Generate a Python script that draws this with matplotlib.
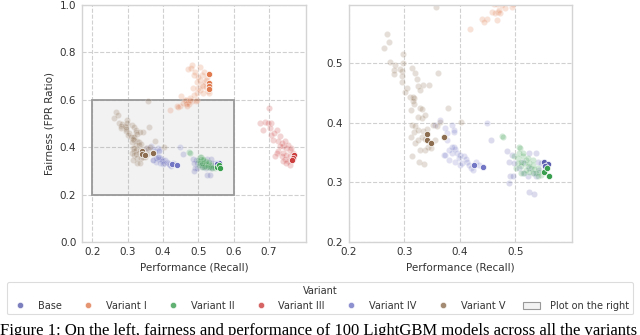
import matplotlib
matplotlib.use('Agg')
from matplotlib import pyplot as plt
from matplotlib.patches import Rectangle, Patch
from matplotlib.lines import Line2D

# faint points: all models, bold points: highlighted models
base_x = [0.456, 0.484, 0.494, 0.489, 0.497, 0.513, 0.525, 0.537, 0.540, 0.546, 0.543,
          0.534, 0.522, 0.537, 0.490, 0.495, 0.488, 0.524, 0.534, 0.513, 0.525, 0.507]
base_y = [0.372, 0.352, 0.346, 0.334, 0.333, 0.335, 0.349, 0.349, 0.335, 0.333, 0.321,
          0.316, 0.310, 0.310, 0.310, 0.310, 0.299, 0.283, 0.281, 0.316, 0.324, 0.324]
base_top_x = [0.552, 0.558, 0.554]
base_top_y = [0.334, 0.331, 0.327]

v1_x = [0.419, 0.448, 0.462, 0.468, 0.476, 0.481, 0.488, 0.495, 0.499, 0.504, 0.509, 0.514,
        0.518, 0.523, 0.527, 0.530, 0.504, 0.509, 0.515, 0.525, 0.481, 0.478, 0.472, 0.490,
        0.504, 0.495, 0.485, 0.487, 0.499, 0.514, 0.466, 0.452, 0.495, 0.523, 0.440, 0.443,
        0.458, 0.464, 0.470, 0.473, 0.467, 0.476, 0.494]
v1_y = [0.558, 0.574, 0.600, 0.586, 0.607, 0.593, 0.621, 0.628, 0.649, 0.642, 0.663, 0.656,
        0.673, 0.653, 0.639, 0.628, 0.684, 0.705, 0.719, 0.698, 0.747, 0.733, 0.729, 0.719,
        0.740, 0.677, 0.649, 0.705, 0.698, 0.628, 0.600, 0.614, 0.600, 0.684, 0.574, 0.569,
        0.587, 0.584, 0.589, 0.584, 0.572, 0.598, 0.595]
v1_top_x = [0.530, 0.530, 0.530, 0.530]
v1_top_y = [0.710, 0.670, 0.660, 0.645]

v2_x = [0.475, 0.477, 0.506, 0.508, 0.507, 0.504, 0.513, 0.519, 0.516, 0.525, 0.531, 0.522,
        0.528, 0.534, 0.540, 0.543, 0.537, 0.531, 0.525, 0.519, 0.510, 0.504, 0.501, 0.516,
        0.546, 0.531, 0.522, 0.510, 0.540, 0.510, 0.513, 0.498]
v2_y = [0.378, 0.376, 0.360, 0.358, 0.349, 0.341, 0.344, 0.338, 0.333, 0.333, 0.330, 0.327,
        0.324, 0.322, 0.324, 0.318, 0.316, 0.316, 0.318, 0.321, 0.327, 0.333, 0.324, 0.316,
        0.313, 0.338, 0.341, 0.316, 0.310, 0.335, 0.349, 0.344]
v2_top_x = [0.552, 0.557, 0.560]
v2_top_y = [0.318, 0.324, 0.310]

v3_x = [0.700, 0.674, 0.688, 0.697, 0.706, 0.682, 0.702, 0.721, 0.706, 0.715, 0.730, 0.710,
        0.724, 0.735, 0.740, 0.749, 0.758, 0.724, 0.740, 0.749, 0.758, 0.735, 0.744, 0.753,
        0.763, 0.768, 0.740, 0.749, 0.758, 0.730, 0.722, 0.718, 0.744, 0.753, 0.763]
v3_y = [0.565, 0.501, 0.508, 0.501, 0.504, 0.473, 0.480, 0.473, 0.452, 0.459, 0.445, 0.431,
        0.424, 0.417, 0.403, 0.396, 0.389, 0.382, 0.375, 0.368, 0.361, 0.361, 0.350, 0.340,
        0.347, 0.375, 0.340, 0.333, 0.326, 0.403, 0.375, 0.361, 0.424, 0.410, 0.396]
v3_top_x = [0.770, 0.768, 0.766]
v3_top_y = [0.368, 0.354, 0.347]

v4_x = [0.365, 0.356, 0.386, 0.389, 0.377, 0.377, 0.389, 0.392, 0.386, 0.395, 0.401, 0.407,
        0.398, 0.411, 0.413, 0.404, 0.416, 0.420, 0.401, 0.429, 0.435, 0.448, 0.371, 0.380,
        0.392, 0.424, 0.373, 0.381, 0.389, 0.373, 0.386]
v4_y = [0.405, 0.397, 0.397, 0.388, 0.383, 0.372, 0.360, 0.356, 0.349, 0.349, 0.346, 0.344,
        0.341, 0.339, 0.335, 0.333, 0.330, 0.324, 0.330, 0.335, 0.330, 0.400, 0.346, 0.338,
        0.335, 0.321, 0.346, 0.355, 0.385, 0.391, 0.360]
v4_top_x = [0.425, 0.441]
v4_top_y = [0.330, 0.326]

v5_x = [0.357, 0.268, 0.272, 0.263, 0.275, 0.283, 0.282, 0.281, 0.292, 0.295, 0.296, 0.298,
        0.297, 0.295, 0.304, 0.302, 0.313, 0.319, 0.323, 0.325, 0.310, 0.315, 0.318, 0.317,
        0.315, 0.360, 0.345, 0.334, 0.328, 0.328, 0.332, 0.312, 0.325, 0.331, 0.337, 0.378,
        0.314, 0.319, 0.317, 0.325, 0.334, 0.340, 0.352, 0.358, 0.312, 0.319, 0.325, 0.331,
        0.337, 0.343, 0.348, 0.337, 0.328, 0.314, 0.326, 0.336, 0.372, 0.355, 0.402, 0.364]
v5_y = [0.594, 0.549, 0.536, 0.525, 0.502, 0.497, 0.489, 0.482, 0.491, 0.487, 0.478, 0.516,
        0.500, 0.468, 0.459, 0.452, 0.492, 0.484, 0.473, 0.462, 0.444, 0.444, 0.441, 0.432,
        0.436, 0.483, 0.464, 0.464, 0.455, 0.425, 0.423, 0.422, 0.409, 0.408, 0.413, 0.425,
        0.397, 0.395, 0.385, 0.388, 0.387, 0.389, 0.397, 0.394, 0.377, 0.366, 0.372, 0.377,
        0.373, 0.360, 0.358, 0.355, 0.355, 0.345, 0.334, 0.331, 0.377, 0.372, 0.402, 0.402]
v5_top_x = [0.340, 0.341, 0.348, 0.371]
v5_top_y = [0.382, 0.371, 0.366, 0.377]

names = ['Base', 'Variant I', 'Variant II', 'Variant III', 'Variant IV', 'Variant V']
colors = ['#5b5fae', '#e07b4f', '#3a9e4f', '#cc3d3d', '#7276c4', '#8c6d4f']

caption = ('Figure 1: On the left, fairness and performance of 100 LightGBM models '
           'across all the variants')

series = [
    (base_x, base_y, base_top_x, base_top_y),
    (v1_x, v1_y, v1_top_x, v1_top_y),
    (v2_x, v2_y, v2_top_x, v2_top_y),
    (v3_x, v3_y, v3_top_x, v3_top_y),
    (v4_x, v4_y, v4_top_x, v4_top_y),
    (v5_x, v5_y, v5_top_x, v5_top_y),
]

plt.rcParams['font.family'] = ['DejaVu Sans']
plt.rcParams['font.size'] = 7.5

fig = plt.figure(figsize=(6.4, 3.35), dpi=100)
ax1 = fig.add_axes([0.128, 0.278, 0.350, 0.707])
ax2 = fig.add_axes([0.545, 0.278, 0.348, 0.707])


def style(ax):
	ax.set_axisbelow(True)
	ax.grid(True, linestyle='--', color='#d0d0d0', linewidth=0.8)
	for s in ax.spines.values():
		s.set_color('#d4d4d4')
		s.set_linewidth(1.0)
	ax.tick_params(length=0, colors='#333333', labelsize=7.5, pad=4)


for ax in (ax1, ax2):
	style(ax)
	for (x, y, tx, ty), c in zip(series, colors):
		ax.scatter(x, y, s=20, color=c, alpha=0.22, edgecolor='white', linewidth=0.5, zorder=2)
		ax.scatter(tx, ty, s=20, color=c, alpha=1.0, edgecolor='white', linewidth=0.5, zorder=3)

ax1.add_patch(Rectangle((0.2, 0.2), 0.4, 0.4, facecolor=(0.5, 0.5, 0.5, 0.1),
                        edgecolor='#999999', linewidth=1.3, zorder=1))
ax1.set_xlim(0.171, 0.804)
ax1.set_ylim(0.0, 1.0)
ax1.set_xticks([0.2, 0.3, 0.4, 0.5, 0.6, 0.7])
ax1.set_yticks([0.0, 0.2, 0.4, 0.6, 0.8, 1.0])
ax1.set_xlabel('Performance (Recall)', color='#333333')
ax1.set_ylabel('Fairness (FPR Ratio)', color='#333333')

ax2.set_xlim(0.2, 0.601)
ax2.set_ylim(0.2, 0.598)
ax2.set_xticks([0.2, 0.3, 0.4, 0.5])
ax2.set_yticks([0.2, 0.3, 0.4, 0.5])
ax2.set_xlabel('Performance (Recall)', color='#333333')

handles = [Line2D([], [], marker='o', linestyle='', markersize=4.5, color=c, alpha=0.8,
                  markeredgecolor='white', markeredgewidth=0.5) for c in colors]
handles.append(Patch(facecolor='#f2f2f2', edgecolor='#999999', linewidth=0.8))
labels = names + ['Plot on the right']
leg = fig.legend(handles, labels, title='Variant', ncol=7, loc='center',
                 bbox_to_anchor=(0.5, 0.11), frameon=True, fontsize=7,
                 title_fontsize=7, columnspacing=1.85, handletextpad=1.0,
                 borderpad=0.4, handlelength=1.7, borderaxespad=0.2)
leg.get_frame().set_edgecolor('#d4d4d4')
leg.get_frame().set_linewidth(0.8)
for t in leg.get_texts():
	t.set_color('#333333')
leg.get_title().set_color('#333333')

# caption of the paper, cut by the bottom edge
fig.text(0.0, 1 - 323 / 335, caption, ha='left', va='top', fontsize=12,
         family=['Liberation Serif', 'DejaVu Serif'], color='black')

fig.savefig('out.png', dpi=100)
